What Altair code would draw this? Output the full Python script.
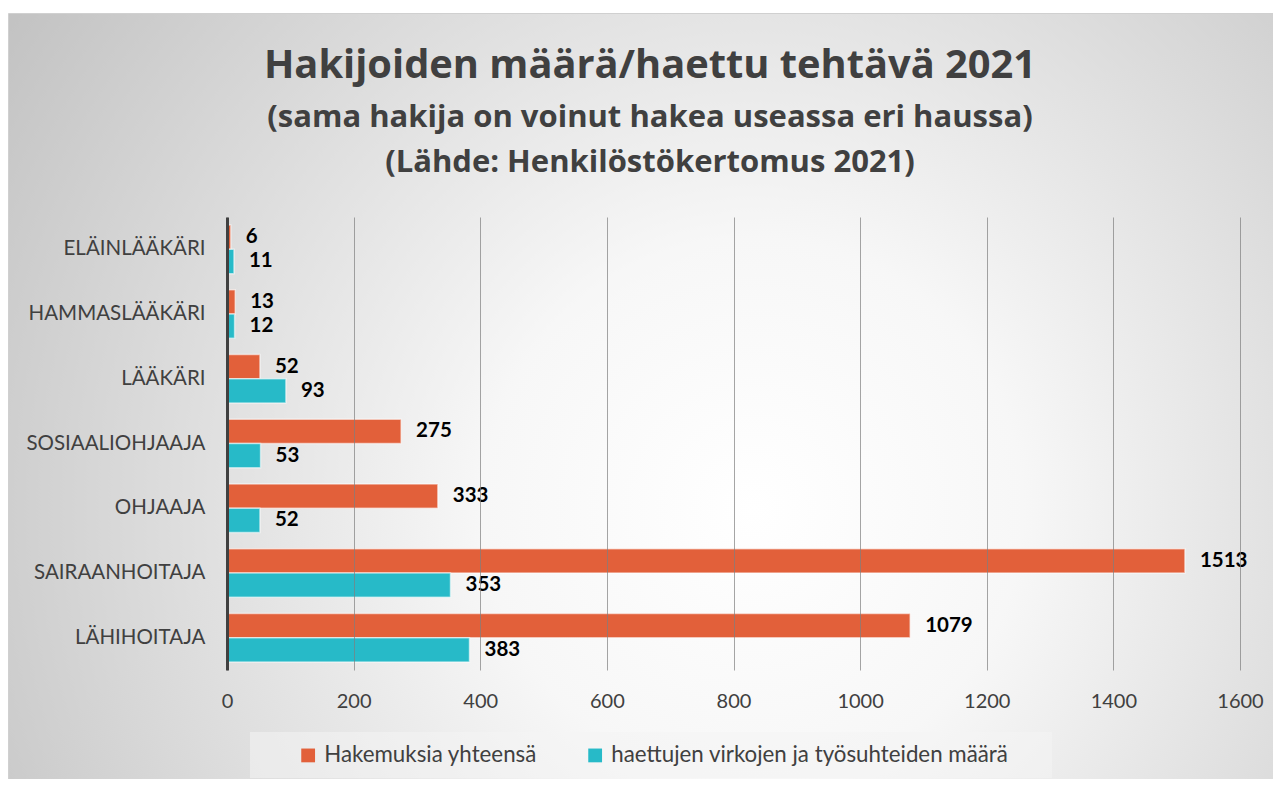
import altair as alt
import pandas as pd

categories = ["ELÄINLÄÄKÄRI", "HAMMASLÄÄKÄRI", "LÄÄKÄRI", "SOSIAALIOHJAAJA",
              "OHJAAJA", "SAIRAANHOITAJA", "LÄHIHOITAJA"]
series_names = ["Hakemuksia yhteensä", "haettujen virkojen ja työsuhteiden määrä"]
hakemuksia = [6, 13, 52, 275, 333, 1513, 1079]
virat = [11, 12, 93, 53, 52, 353, 383]
x_ticks = [0, 200, 400, 600, 800, 1000, 1200, 1400, 1600]

title_text = "Hakijoiden määrä/haettu tehtävä 2021"
subtitle_1 = "(sama hakija on voinut hakea useassa eri haussa)"
subtitle_2 = "(Lähde: Henkilöstökertomus 2021)"

rows = []
for c, a, b in zip(categories, hakemuksia, virat):
    rows.append({"cat": c, "series": series_names[0], "value": a})
    rows.append({"cat": c, "series": series_names[1], "value": b})
df = pd.DataFrame(rows)

FONT = "Lato"
TITLE_FONT = "Open Sans"
ORANGE = "#E2603A"
TEAL = "#27BAC8"
GREY = "#404040"

PAD_L, PAD_T = 219, 209
W, H = 1013, 453
TOTAL_W, TOTAL_H = 1265, 771
PAD_R = TOTAL_W - PAD_L - W
PAD_B = TOTAL_H - PAD_T - H

one = pd.DataFrame({"k": [0]})

background = alt.Chart(one).mark_rect(
    fill={
        "gradient": "radial",
        "x1": 0.58, "y1": 0.58, "r1": 0,
        "x2": 0.58, "y2": 0.58, "r2": 0.7,
        "stops": [
            {"offset": 0, "color": "#ffffff"},
            {"offset": 0.3, "color": "#f7f7f7"},
            {"offset": 1, "color": "#c2c2c2"},
        ],
    },
    stroke="#d0d0d0",
    strokeWidth=1,
).encode(
    x=alt.value(-PAD_L + 0.5),
    x2=alt.value(W + PAD_R + 20),
    y=alt.value(-PAD_T + 5.5),
    y2=alt.value(H + PAD_B + 20),
)

legend_box = alt.Chart(one).mark_rect(
    fill="#f4f4f4", opacity=0.55
).encode(
    x=alt.value(23), x2=alt.value(825),
    y=alt.value(515), y2=alt.value(561),
)


def title_line(text, size, y):
    return alt.Chart(pd.DataFrame({"t": [text]})).mark_text(
        font=TITLE_FONT, fontSize=size, fontWeight="bold", color=GREY,
        align="center", baseline="alphabetic",
    ).encode(text="t:N", x=alt.value(423), y=alt.value(y))


t1 = title_line(title_text, 39.8, -138.7)
t2 = title_line(subtitle_1, 31, -90.3)
t3 = title_line(subtitle_2, 31, -45.3)

y_enc = alt.Y(
    "cat:N", sort=categories, title=None,
    scale=alt.Scale(paddingInner=0.25, paddingOuter=0.125),
    axis=alt.Axis(
        labelFont=FONT, labelFontSize=20.5, labelColor=GREY, labelPadding=22,
        ticks=False, domainColor=GREY, domainWidth=3, grid=False, zindex=1,
    ),
)
x_enc = alt.X(
    "value:Q", title=None,
    scale=alt.Scale(domain=[0, 1600], nice=False),
    axis=alt.Axis(
        values=x_ticks, format="d", labelFont=FONT, labelFontSize=20,
        labelColor=GREY, labelPadding=21, labelFlush=False, ticks=False,
        domain=False, grid=True, gridColor="#7f7f7f", gridOpacity=0.7,
        gridWidth=1, zindex=1,
    ),
)
yoff = alt.YOffset("series:N", sort=series_names)

bars = alt.Chart(df).mark_bar(
    stroke="white", strokeOpacity=0.55, strokeWidth=1.5
).encode(
    x=x_enc,
    y=y_enc,
    yOffset=yoff,
    color=alt.Color(
        "series:N",
        scale=alt.Scale(domain=series_names, range=[ORANGE, TEAL]),
        legend=alt.Legend(
            title=None, orient="none", legendX=70, legendY=527,
            direction="horizontal", symbolType="square", symbolSize=190,
            symbolStrokeWidth=0, labelFont=FONT, labelFontSize=22.3,
            labelColor=GREY, columnPadding=47, labelOffset=5, padding=0,
            labelLimit=600,
        ),
    ),
)

labels = alt.Chart(df).mark_text(
    align="left", baseline="middle", dx=15, font=FONT, fontSize=20.5,
    fontWeight="bold", color="black",
).encode(
    x=alt.X("value:Q"),
    y=alt.Y("cat:N", sort=categories),
    yOffset=yoff,
    text=alt.Text("value:Q"),
)

chart = alt.layer(background, legend_box, t1, t2, t3, bars, labels).properties(
    width=W,
    height=H,
    padding={"left": PAD_L, "top": PAD_T, "right": PAD_R, "bottom": PAD_B},
    autosize=alt.AutoSizeParams(type="none"),
).configure_view(stroke=None).configure(background="white")

chart.save("out.html", embed_options={"renderer": "svg", "actions": False})
